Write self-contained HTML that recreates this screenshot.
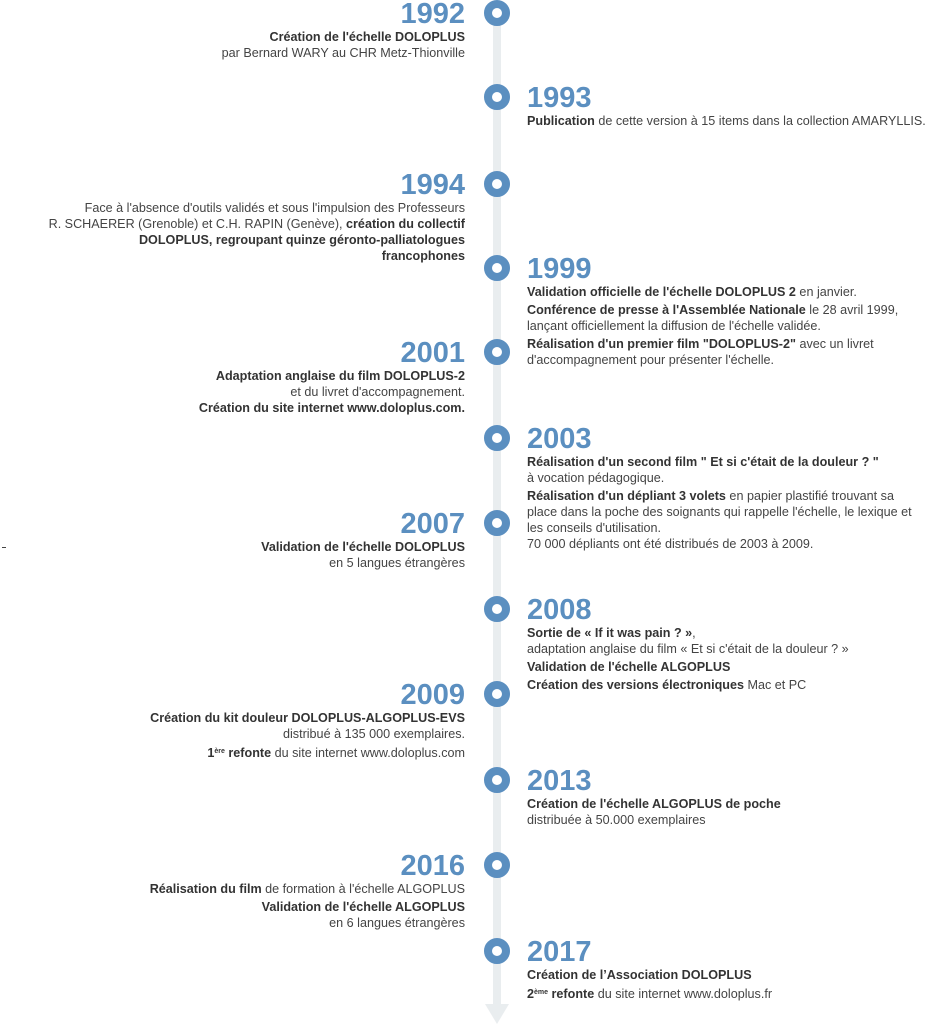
<!DOCTYPE html>
<html><head><meta charset="utf-8"><style>
body{margin:0;width:926px;height:1024px;background:#fff;position:relative;overflow:hidden;font-family:"Liberation Sans",sans-serif;font-size:12.6px;color:#444;}
.line{position:absolute;left:493px;top:13px;width:8px;height:995px;background:#e9edef;}
.arrow{position:absolute;left:485px;top:1004px;width:0;height:0;border-left:12px solid transparent;border-right:12px solid transparent;border-top:20px solid #e9edef;}
.c{position:absolute;left:484px;width:10px;height:10px;border:8px solid #5b8fc0;border-radius:50%;background:#fff;}
.b{position:absolute;line-height:16px;white-space:nowrap;}
.L{right:461px;text-align:right;}
.R{left:527px;}
.y{font-size:29px;font-weight:bold;color:#5b8fc0;line-height:32px;height:32px;margin-bottom:-1px;}
b{color:#333;}
p{margin:0 0 2px 0;}
sup{font-size:7px;vertical-align:4px;}
</style></head><body>
<div class="line"></div><div class="arrow"></div>
<div class="c" style="top:0px"></div>
<div class="c" style="top:84px"></div>
<div class="c" style="top:171px"></div>
<div class="c" style="top:255px"></div>
<div class="c" style="top:339px"></div>
<div class="c" style="top:425px"></div>
<div class="c" style="top:510px"></div>
<div class="c" style="top:596px"></div>
<div class="c" style="top:681px"></div>
<div class="c" style="top:767px"></div>
<div class="c" style="top:852px"></div>
<div class="c" style="top:938px"></div>

<div class="b L" style="top:-2px"><div class="y">1992</div><p><b>Création de l'échelle DOLOPLUS</b><br>par Bernard WARY au CHR Metz-Thionville</p></div>
<div class="b R" style="top:82px"><div class="y">1993</div><p><b>Publication</b> de cette version à 15 items dans la collection AMARYLLIS.</p></div>
<div class="b L" style="top:169px"><div class="y">1994</div><p>Face à l'absence d'outils validés et sous l'impulsion des Professeurs<br>R. SCHAERER (Grenoble) et C.H. RAPIN (Genève), <b>création du collectif<br>DOLOPLUS, regroupant quinze géronto-palliatologues<br>francophones</b></p></div>
<div class="b R" style="top:253px"><div class="y">1999</div><p><b>Validation officielle de l'échelle DOLOPLUS 2</b> en janvier.</p><p><b>Conférence de presse à l'Assemblée Nationale</b> le 28 avril 1999,<br>lançant officiellement la diffusion de l'échelle validée.</p><p><b>Réalisation d'un premier film "DOLOPLUS-2"</b> avec un livret<br>d'accompagnement pour présenter l'échelle.</p></div>
<div class="b L" style="top:337px"><div class="y">2001</div><p><b>Adaptation anglaise du film DOLOPLUS-2</b><br>et du livret d'accompagnement.<br><b>Création du site internet www.doloplus.com.</b></p></div>
<div class="b R" style="top:423px"><div class="y">2003</div><p><b>Réalisation d'un second film " Et si c'était de la douleur ? "</b><br>à vocation pédagogique.</p><p><b>Réalisation d'un dépliant 3 volets</b> en papier plastifié trouvant sa<br>place dans la poche des soignants qui rappelle l'échelle, le lexique et<br>les conseils d'utilisation.<br>70 000 dépliants ont été distribués de 2003 à 2009.</p></div>
<div class="b L" style="top:508px"><div class="y">2007</div><p><b>Validation de l'échelle DOLOPLUS</b><br>en 5 langues étrangères</p></div>
<div class="b R" style="top:594px"><div class="y">2008</div><p><b>Sortie de « If it was pain ? »</b>,<br>adaptation anglaise du film « Et si c'était de la douleur ? »</p><p><b>Validation de l'échelle ALGOPLUS</b></p><p><b>Création des versions électroniques</b> Mac et PC</p></div>
<div class="b L" style="top:679px"><div class="y">2009</div><p><b>Création du kit douleur DOLOPLUS-ALGOPLUS-EVS</b><br>distribué à 135 000 exemplaires.</p><p><b>1<sup>ère</sup> refonte</b> du site internet www.doloplus.com</p></div>
<div class="b R" style="top:765px"><div class="y">2013</div><p><b>Création de l'échelle ALGOPLUS de poche</b><br>distribuée à 50.000 exemplaires</p></div>
<div class="b L" style="top:850px"><div class="y">2016</div><p><b>Réalisation du film</b> de formation à l'échelle ALGOPLUS</p><p><b>Validation de l'échelle ALGOPLUS</b><br>en 6 langues étrangères</p></div>
<div class="b R" style="top:936px"><div class="y">2017</div><p><b>Création de l’Association DOLOPLUS</b></p><p><b>2<sup>ème</sup> refonte</b> du site internet www.doloplus.fr</p></div>
<div style="position:absolute;left:2px;top:547px;width:4px;height:1px;background:#444"></div>
</body></html>
